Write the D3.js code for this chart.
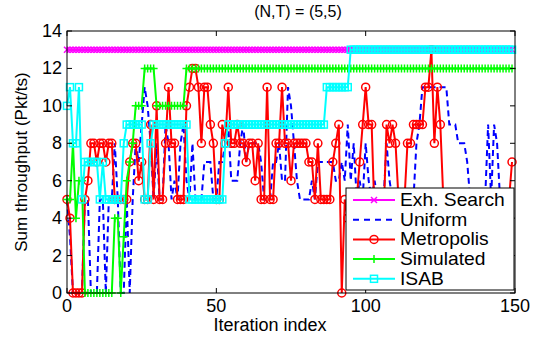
<!DOCTYPE html>
<html>
<head>
<meta charset="utf-8">
<script src="https://cdn.jsdelivr.net/npm/d3@7"></script>
<style>
  body { margin: 0; background: #fff; }
  text { font-family: "Liberation Sans", Arial, sans-serif; fill: #000; }
</style>
</head>
<body>
<div id="chart"></div>
<script>
// iteration index 0..149
const exhSearch = [
  13,13,13,13,13,13,13,13,13,13,13,13,13,13,13,13,13,13,13,13,13,13,13,13,13,
  13,13,13,13,13,13,13,13,13,13,13,13,13,13,13,13,13,13,13,13,13,13,13,13,13,
  13,13,13,13,13,13,13,13,13,13,13,13,13,13,13,13,13,13,13,13,13,13,13,13,13,
  13,13,13,13,13,13,13,13,13,13,13,13,13,13,13,13,13,13,13,13,13,13,13,13,13,
  13,13,13,13,13,13,13,13,13,13,13,13,13,13,13,13,13,13,13,13,13,13,13,13,13,
  13,13,13,13,13,13,13,13,13,13,13,13,13,13,13,13,13,13,13,13,13,13,13,13,13
];
const uniform = [
  5,3,0,0,0,0,5,5,0,0, 0,5,5,0,5,5,8,5,0,0,
  5,0,5,8,7,9,11,10,8,5, 8,5,5,9,8,5,6,5,8,9,
  6,5,8,5,5,5,7,7,7,5, 5,7,7,8,9,6,6,6,8,9,
  7,8,8,8,8,7,5,5,5,7, 7,8,6,6,11,10,8,6,5,5,
  5,5,6,5,7,7,7,7,7,7, 6,6,7,6,9,6,8,5,6,5,
  8,6,5,6,5,5,5,8,6,5, 5,5,5,5,5,5,5,8,9,11,
  11,11,11,11,11,11,11,11,9,9, 9,8,8,8,7,5,5,5,5,5,
  5,9,5,9,8,5,5,5,5,5
];
const metropolis = [
  5,4,0,0,0,0,5,6,8,8, 7,8,8,7,8,8,5,5,5,5,
  5,7,8,8,6,7,5,5,9,5, 10,5,5,8,11,8,8,5,5,5,
  10,11,12,12,11,8,11,11,9,8, 5,5,9,8,11,8,8,9,8,8,
  7,8,8,6,8,5,5,11,5,5, 8,8,11,8,8,6,8,8,8,8,
  8,7,7,5,8,5,5,5,5,7, 8,9,0,5,4,5,4,5,7,9,
  11,9,9,4,5,5,4,9,8,9, 8,5,4,5,8,8,9,9,9,9,
  11,11,13,8,11,9,5,4,5,5, 4,5,5,5,4,5,5,4,5,5,
  5,4,5,5,5,4,5,5,5,7
];
const simulated = [
  5,5,8,4,6,6,0,0,0,0, 0,0,0,0,0,0,4,4,0,3,
  6,7,8,10,10,10,12,12,12,12, 10,10,10,10,10,10,10,10,10,10,
  12,12,12,12,12,12,12,12,12,12, 12,12,12,12,12,12,12,12,12,12,
  12,12,12,12,12,12,12,12,12,12, 12,12,12,12,12,12,12,12,12,12,
  12,12,12,12,12,12,12,12,12,12, 12,12,12,12,12,12,12,12,12,12,
  12,12,12,12,12,12,12,12,12,12, 12,12,12,12,12,12,12,12,12,12,
  12,12,12,12,12,12,12,12,12,12, 12,12,12,12,12,12,12,12,12,12,
  12,12,12,12,12,12,12,12,12,12
];
const isab = [
  10,11,8,8,11,5,7,7,7,7, 7,5,7,5,5,5,5,5,5,8,
  9,9,9,9,9,9,5,5,8,9, 9,9,9,9,9,9,9,9,9,9,
  9,5,5,5,5,5,5,5,5,5, 5,5,5,8,9,9,9,9,9,9,
  9,9,9,9,9,9,9,9,9,9, 9,9,9,9,9,9,9,9,9,9,
  9,9,9,9,9,9,9,11,11,11, 11,11,11,11,11,13,13,13,13,13,
  13,13,13,13,13,13,13,13,13,13, 13,13,13,13,13,13,13,13,13,13,
  13,13,13,13,13,13,13,13,13,13, 13,13,13,13,13,13,13,13,13,13,
  13,13,13,13,13,13,13,13,13,13
];
const seriesNames = ["Exh. Search", "Uniform", "Metropolis", "Simulated", "ISAB"];
const seriesColors = ["#ff00ff", "#0000ff", "#ff0000", "#00ff00", "#00ffff"];
const seriesMarkers = ["x", "none", "circle", "plus", "square"];
const xTicks = [0, 50, 100, 150];
const yTicks = [0, 2, 4, 6, 8, 10, 12, 14];

const width = 542, height = 337;
const margin = { left: 67, right: 27, top: 31, bottom: 44 };

const svg = d3.select('#chart').append('svg')
  .attr('width', width)
  .attr('height', height);

const x = d3.scaleLinear().domain([0, 150]).range([margin.left, width - margin.right]);
const y = d3.scaleLinear().domain([0, 14]).range([height - margin.bottom, margin.top]);

const allSeries = [exhSearch, uniform, metropolis, simulated, isab];

// clip to the axes box (markers may poke out a little)
svg.append('clipPath').attr('id', 'plotclip')
  .append('rect')
  .attr('x', x(0) - 6).attr('y', y(14) - 6)
  .attr('width', x(150) - x(0) + 12).attr('height', y(0) - y(14) + 12);

const plot = svg.append('g').attr('clip-path', 'url(#plotclip)');

const line = d3.line()
  .x((d, i) => x(i))
  .y(d => y(d));

function drawMarker(g, type, color, cx, cy) {
  if (type === 'circle') {
    g.append('circle').attr('cx', cx).attr('cy', cy).attr('r', 4)
      .attr('fill', 'none').attr('stroke', color).attr('stroke-width', 1.5);
  } else if (type === 'square') {
    g.append('rect').attr('x', cx - 3.5).attr('y', cy - 3.5).attr('width', 7).attr('height', 7)
      .attr('fill', 'none').attr('stroke', color).attr('stroke-width', 1.5);
  } else if (type === 'plus') {
    g.append('path').attr('d', `M${cx - 4},${cy}H${cx + 4}M${cx},${cy - 4}V${cy + 4}`)
      .attr('stroke', color).attr('stroke-width', 1.5);
  } else if (type === 'x') {
    g.append('path').attr('d', `M${cx - 3},${cy - 3}L${cx + 3},${cy + 3}M${cx - 3},${cy + 3}L${cx + 3},${cy - 3}`)
      .attr('stroke', color).attr('stroke-width', 1.5);
  }
}

allSeries.forEach((data, k) => {
  const g = plot.append('g');
  g.append('path')
    .datum(data)
    .attr('fill', 'none')
    .attr('stroke', seriesColors[k])
    .attr('stroke-width', 2)
    .attr('stroke-dasharray', seriesMarkers[k] === 'none' ? '6,4' : null)
    .attr('d', line);
  if (seriesMarkers[k] !== 'none') {
    data.forEach((v, i) => drawMarker(g, seriesMarkers[k], seriesColors[k], x(i), y(v)));
  }
});

// axes box and ticks (inward, on all sides like MATLAB)
const axisG = svg.append('g');
axisG.append('rect')
  .attr('x', x(0)).attr('y', y(14))
  .attr('width', x(150) - x(0)).attr('height', y(0) - y(14))
  .attr('fill', 'none').attr('stroke', '#000').attr('stroke-width', 1);

const tickLen = 5;
xTicks.forEach(t => {
  axisG.append('line').attr('x1', x(t)).attr('x2', x(t)).attr('y1', y(0)).attr('y2', y(0) - tickLen).attr('stroke', '#000');
  axisG.append('line').attr('x1', x(t)).attr('x2', x(t)).attr('y1', y(14)).attr('y2', y(14) + tickLen).attr('stroke', '#000');
  axisG.append('text').attr('x', x(t)).attr('y', y(0) + 19)
    .attr('text-anchor', 'middle').attr('font-size', 18).text(t);
});
yTicks.forEach(t => {
  axisG.append('line').attr('x1', x(0)).attr('x2', x(0) + tickLen).attr('y1', y(t)).attr('y2', y(t)).attr('stroke', '#000');
  axisG.append('line').attr('x1', x(150)).attr('x2', x(150) - tickLen).attr('y1', y(t)).attr('y2', y(t)).attr('stroke', '#000');
  axisG.append('text').attr('x', x(0) - 5).attr('y', y(t) + 6)
    .attr('text-anchor', 'end').attr('font-size', 18).text(t);
});

// title and labels
svg.append('text').attr('x', 298).attr('y', 17)
  .attr('text-anchor', 'middle').attr('font-size', 16).text('(N,T) = (5,5)');
svg.append('text').attr('x', 270).attr('y', 331)
  .attr('text-anchor', 'middle').attr('font-size', 18).text('Iteration index');
svg.append('text')
  .attr('transform', `translate(27,${162}) rotate(-90)`)
  .attr('text-anchor', 'middle').attr('font-size', 17).text('Sum throughput (Pkt/ts)');

// legend
const lg = svg.append('g');
const lx = 346, ly = 188, lw = 168, lh = 102;
lg.append('rect').attr('x', lx).attr('y', ly).attr('width', lw).attr('height', lh)
  .attr('fill', '#fff').attr('stroke', '#000').attr('stroke-width', 1);
seriesNames.forEach((name, k) => {
  const cy = ly + 12 + k * 19.7;
  lg.append('line').attr('x1', lx + 7).attr('x2', lx + 49).attr('y1', cy).attr('y2', cy)
    .attr('stroke', seriesColors[k]).attr('stroke-width', 2)
    .attr('stroke-dasharray', seriesMarkers[k] === 'none' ? '6,5' : null);
  drawMarker(lg, seriesMarkers[k], seriesColors[k], lx + 28, cy);
  lg.append('text')
    .attr('transform', `translate(${lx + 54},${cy + 6}) scale(1.1,1)`)
    .attr('font-size', 17.5).text(name);
});
</script>
</body>
</html>
